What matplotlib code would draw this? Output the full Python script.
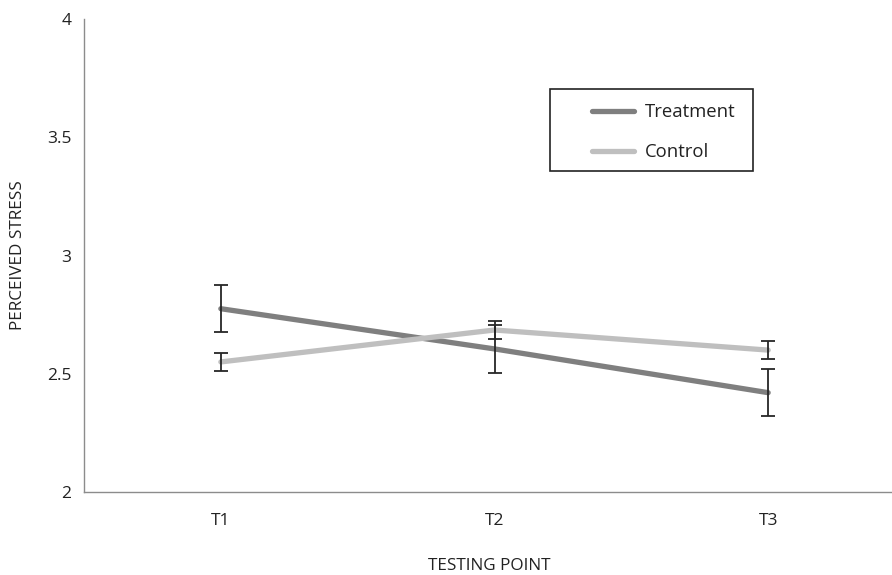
import matplotlib
matplotlib.use("Agg")
import matplotlib.pyplot as plt
from matplotlib.patches import Rectangle

categories = ["T1", "T2", "T3"]
treatment = [2.775, 2.605, 2.42]
treatment_err = [0.10, 0.10, 0.10]
control = [2.55, 2.685, 2.60]
control_err = [0.037, 0.037, 0.037]
yticks = [2, 2.5, 3, 3.5, 4]
ytick_labels = ["2", "2.5", "3", "3.5", "4"]

plt.rcParams['font.family'] = ['Open Sans', 'DejaVu Sans']

W, H = 892, 575
fig = plt.figure(figsize=(W / 100, H / 100), dpi=100)
ax_left, ax_right = 84 / W, 905 / W
ax_bottom, ax_top = (H - 492) / H, (H - 19) / H
ax = fig.add_axes([ax_left, ax_bottom, ax_right - ax_left, ax_top - ax_bottom])

x = [i + 0.5 for i in range(len(categories))]
tcol = "#7f7f7f"
ccol = "#bfbfbf"
ecol = "#262626"

ax.plot(x, treatment, color=tcol, lw=3.8, solid_capstyle="round", label="Treatment", zorder=2)
ax.plot(x, control, color=ccol, lw=3.8, solid_capstyle="round", label="Control", zorder=2)
ax.errorbar(x, treatment, yerr=treatment_err, fmt="none", ecolor=ecol, elinewidth=1.3,
            capsize=5, capthick=1.3, zorder=3)
ax.errorbar(x, control, yerr=control_err, fmt="none", ecolor=ecol, elinewidth=1.3,
            capsize=5, capthick=1.3, zorder=3)

ax.set_xlim(0, 3)
ax.set_ylim(2, 4)
ax.set_xticks(x)
ax.set_xticklabels(categories, fontsize=12.5, color="#222222")
ax.set_yticks(yticks)
ax.set_yticklabels(ytick_labels, fontsize=12.5, color="#222222")
ax.tick_params(axis="both", length=0)
ax.tick_params(axis="x", pad=15)
ax.tick_params(axis="y", pad=9)
for s in ["top", "right"]:
    ax.spines[s].set_visible(False)
for s in ["left", "bottom"]:
    ax.spines[s].set_color("#8c8c8c")
    ax.spines[s].set_linewidth(1.0)

fig.text(489 / W, 1 - 566 / H, "TESTING POINT", ha="center", va="center", fontsize=12.3, color="#222222")
fig.text(18 / W, 1 - 255 / H, "PERCEIVED STRESS", ha="center", va="center", rotation=90,
         fontsize=12.3, color="#222222")

# legend
leg = ax.legend(loc="upper left", bbox_to_anchor=(592 / W, 1 - 103 / H),
                bbox_transform=fig.transFigure, frameon=False, fontsize=13.3,
                handlelength=2.3, handletextpad=0.55, labelspacing=1.2, borderpad=0,
                borderaxespad=0)
for t in leg.get_texts():
    t.set_color("#222222")
fig.patches.append(Rectangle((550 / W, 1 - 171 / H), (753 - 550) / W, (171 - 89) / H,
                             transform=fig.transFigure, fill=False, edgecolor="#222222",
                             linewidth=1.2, figure=fig))

fig.savefig("out.png", dpi=100)
